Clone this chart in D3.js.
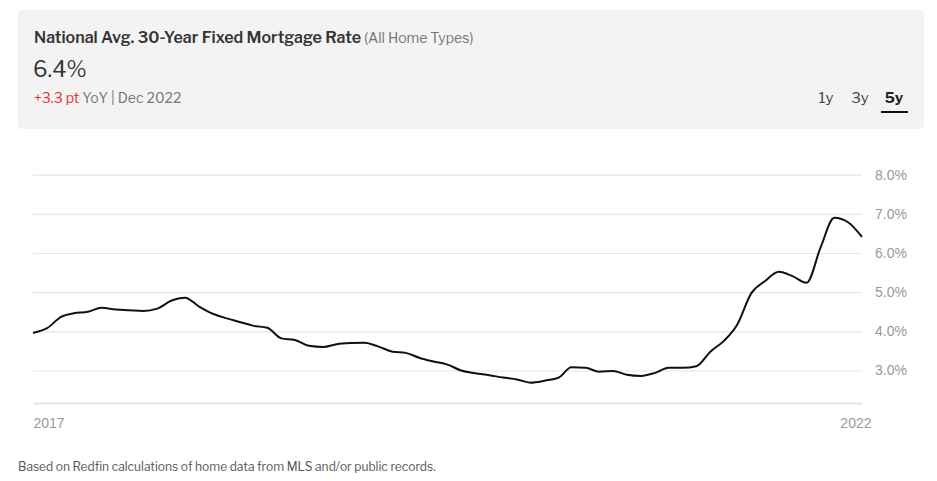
<!DOCTYPE html>
<html><head><meta charset="utf-8">
<script src="https://cdn.jsdelivr.net/npm/d3@7"></script>
<style>
body{margin:0;background:#fff;font-family:"Libre Franklin","Inter","Roboto",sans-serif;}
</style></head><body>
<svg id="c" width="937" height="481"></svg>
<script>
const startMonth = "2017-12";
const rates = [3.96,4.08,4.37,4.46,4.50,4.60,4.56,4.54,4.52,4.58,4.78,4.86,
4.64,4.45,4.33,4.24,4.14,4.09,3.82,3.78,3.63,3.60,3.67,3.70,
3.71,3.61,3.48,3.45,3.32,3.23,3.15,3.00,2.93,2.88,2.82,2.77,
2.69,2.74,2.82,3.08,3.07,2.97,2.99,2.89,2.86,2.94,3.07,3.07,
3.11,3.48,3.77,4.17,4.97,5.28,5.52,5.41,5.24,6.15,6.90,6.78,6.41];
const yTicks = [3,4,5,6,7,8];
const xTickLabels = ["2017","2022"];
const ranges = ["1y","3y","5y"];

const parse = d3.timeParse("%Y-%m");
const t0 = parse(startMonth);
const data = rates.map((v,i)=>({date:d3.timeMonth.offset(t0,i), v}));

const svg = d3.select("#c");
// header card
svg.append("rect").attr("x",18).attr("y",10).attr("width",906).attr("height",119).attr("rx",4).attr("fill","#f3f3f3");
const t = svg.append("text").attr("x",34).attr("y",43).attr("fill","#333");
t.append("tspan").attr("font-weight",600).attr("font-size",16).text("National Avg. 30-Year Fixed Mortgage Rate");
t.append("tspan").attr("fill","#767676").attr("font-size",14).text(" (All Home Types)");
svg.append("text").attr("x",33).attr("y",77).attr("font-size",22).attr("fill","#333").text("6.4%");
const s = svg.append("text").attr("x",34).attr("y",103).attr("font-size",14);
s.append("tspan").attr("fill","#e8302f").text("+3.3 pt");
s.append("tspan").attr("fill","#767676").text(" YoY | Dec 2022");
const rx = [826,860,894];
ranges.forEach((r,i)=>{
  svg.append("text").attr("x",rx[i]).attr("y",103).attr("text-anchor","middle")
    .attr("font-size",15).attr("fill",i===2?"#222":"#444").attr("font-weight",i===2?700:400).text(r);
});
svg.append("rect").attr("x",881).attr("y",111).attr("width",27).attr("height",2).attr("fill","#111");

const x = d3.scaleTime().domain(d3.extent(data,d=>d.date)).range([33,862]);
const y = d3.scaleLinear().domain([2.17,8.0]).range([403,174.7]);

const g = svg.append("g");
const ya = d3.axisRight(y).tickValues(yTicks).tickSize(829).tickFormat(d=>d3.format(".1f")(d)+"%");
g.append("g").attr("transform","translate(33,0)").call(ya).call(a=>{
  a.select(".domain").remove();
  a.selectAll(".tick line").attr("stroke","#e6e6e6").attr("stroke-width",1.2);
  a.selectAll(".tick text").attr("x",842).attr("fill","#999").attr("font-size",14).attr("font-family","inherit");
});
// bottom axis line
const xa = d3.axisBottom(x).tickValues([x.domain()[0],x.domain()[1]]).tickSize(0).tickFormat((d,i)=>xTickLabels[i]);
g.append("g").attr("transform","translate(0,403)").call(xa).call(a=>{
  a.select(".domain").attr("stroke","#e6e6e6").attr("stroke-width",2);
  a.selectAll(".tick text").attr("fill","#999").attr("font-size",14).attr("font-family","inherit").attr("dy",0).attr("y",25);
  a.selectAll(".tick").filter((d,i)=>i===0).select("text").attr("text-anchor","start");
  a.selectAll(".tick").filter((d,i)=>i===1).select("text").attr("text-anchor","end").attr("x",9);
});

const line = d3.line().x(d=>x(d.date)).y(d=>y(d.v)).curve(d3.curveMonotoneX);
svg.append("path").datum(data).attr("d",line).attr("fill","none").attr("stroke","#111").attr("stroke-width",2);

svg.append("text").attr("x",18).attr("y",471).attr("font-size",12).attr("fill","#555")
  .text("Based on Redfin calculations of home data from MLS and/or public records.");
</script></body></html>
